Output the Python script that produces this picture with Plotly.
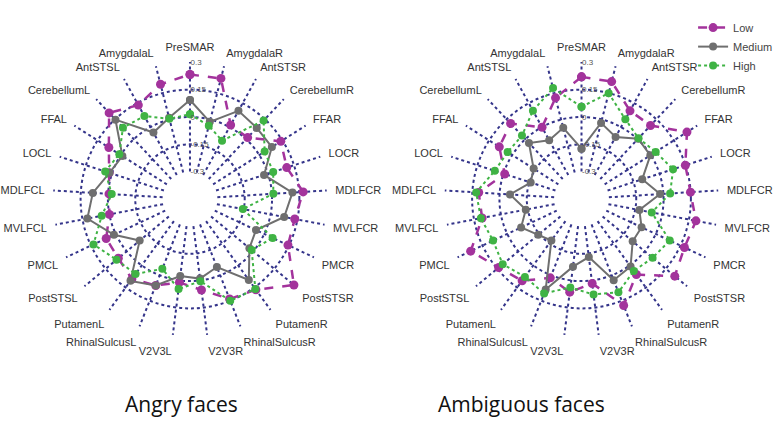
import plotly.graph_objects as go

categories = ["PreSMAR", "AmygdalaR", "AntSTSR", "CerebellumR", "FFAR", "LOCR", "MDLFCR",
              "MVLFCR", "PMCR", "PostSTSR", "PutamenR", "RhinalSulcusR", "V2V3R", "V2V3L",
              "RhinalSulcusL", "PutamenL", "PostSTSL", "PMCL", "MVLFCL", "MDLFCL", "LOCL",
              "FFAL", "CerebellumL", "AntSTSL", "AmygdalaL"]

angry_low = [0.233, 0.233, 0.013, 0.012, 0.14, 0.108, 0.172, 0.135, 0.144, 0.29, 0.165, 0.14, 0.053,
             0.011, 0.06, 0.092, 0.06, 0.058, 0.0, -0.005, 0.016, 0.077, 0.198, 0.138, 0.2]
angry_medium = [0.093, -0.013, 0.102, 0.085, 0.082, -0.023, 0.113, 0.076, -0.05, -0.027, 0.099, -0.049,
                -0.01, -0.024, 0.06, 0.105, -0.092, 0.011, 0.123, 0.084, 0.014, -0.011, 0.147, -0.034, 0.01]
angry_high = [0.015, -0.035, -0.085, 0.14, 0.035, 0.03, 0.008, -0.155, 0.051, -0.011, 0.16, 0.15, 0.004,
              0.048, -0.038, 0.058, 0.073, 0.135, 0.043, -0.02, 0.039, 0.009, 0.087, 0.069, 0.004]

ambig_low = [0.22, 0.215, 0.102, 0.103, 0.235, 0.149, 0.149, 0.189, 0.174, 0.214, 0.062, 0.178, 0.017,
             0.065, 0.015, 0.104, 0.14, 0.222, 0.105, 0.115, -0.007, 0.084, 0.118, -0.001, 0.123]
ambig_medium = [-0.174, -0.019, -0.062, 0.004, -0.003, -0.1, -0.018, -0.127, -0.086, -0.086, 0.008, 0.029,
                -0.129, -0.076, 0.084, -0.169, -0.142, -0.084, -0.139, -0.057, -0.157, -0.139, -0.029,
                -0.082, -0.047]
ambig_high = [0.056, 0.149, 0.049, 0.007, 0.032, 0.078, 0.037, -0.058, 0.085, 0.056, 0.038, 0.1, 0.078,
              0.039, 0.107, 0.078, 0.111, 0.086, 0.112, 0.129, 0.05, 0.03, 0.027, 0.103, 0.178]

radial_ticks = [-0.3, -0.15, 0, 0.15, 0.3]
radial_tick_labels = ["-0.3", "-0.15", "0", "0.15", "0.3"]
series_names = ["Low", "Medium", "High"]
panel_titles = ["Angry faces", "Ambiguous faces"]

styles = {
    "Low": dict(color="#a3339c", dash="dash", width=2.5, size=9),
    "Medium": dict(color="#6f6f6f", dash="solid", width=2, size=8),
    "High": dict(color="#3fb344", dash="3px,3px", width=2, size=8),
}

panels = [
    ("polar", {"Low": angry_low, "Medium": angry_medium, "High": angry_high}),
    ("polar2", {"Low": ambig_low, "Medium": ambig_medium, "High": ambig_high}),
]

fig = go.Figure()
for pi, (sub, data) in enumerate(panels):
    for name in series_names:
        vals = data[name]
        st = styles[name]
        fig.add_trace(go.Scatterpolar(
            r=vals + vals[:1], theta=categories + categories[:1], subplot=sub,
            mode="lines+markers", name=name, showlegend=(pi == 1),
            line=dict(color=st["color"], dash=st["dash"], width=st["width"]),
            marker=dict(color=st["color"], size=st["size"]),
        ))

grid_color = "#34348a"
polar_common = dict(
    bgcolor="white",
    hole=0.2,
    radialaxis=dict(range=[-0.3, 0.3015], tickvals=radial_ticks, ticktext=radial_tick_labels,
                    showline=False, gridcolor=grid_color, griddash="dot", gridwidth=1.5,
                    angle=90, tickangle=90, ticks="",
                    tickfont=dict(size=8, color="#555555", family="Liberation Sans, Arial")),
    angularaxis=dict(type="category", direction="clockwise", rotation=90,
                     showline=False, gridcolor=grid_color, griddash="dot", gridwidth=1.5,
                     ticks="outside", ticklen=6, tickcolor="rgba(0,0,0,0)",
                     tickfont=dict(size=11, color="#333333", family="Liberation Sans, Arial")),
)

fig.update_layout(
    width=777, height=437,
    margin=dict(l=0, r=0, t=0, b=0, autoexpand=False),
    paper_bgcolor="white",
    polar=dict(domain=dict(x=[0.0682, 0.4208], y=[0.2311, 0.8581]), **polar_common),
    polar2=dict(domain=dict(x=[0.5721, 0.9247], y=[0.2311, 0.8581]), **polar_common),
    legend=dict(x=0.892, y=0.97, xanchor="left", yanchor="top", bgcolor="rgba(0,0,0,0)",
                font=dict(size=11, color="#444444", family="Liberation Sans, Arial"),
                itemwidth=30, tracegroupgap=0),
    annotations=[
        dict(text=panel_titles[0], x=0.233, y=0.0755, xref="paper", yref="paper", showarrow=False,
             xanchor="center", yanchor="middle",
             font=dict(size=21, color="#111111", family="Open Sans")),
        dict(text=panel_titles[1], x=0.671, y=0.0755, xref="paper", yref="paper", showarrow=False,
             xanchor="center", yanchor="middle",
             font=dict(size=21, color="#111111", family="Open Sans")),
    ],
)

fig.write_html("out.html", config={"displayModeBar": False},
               post_script="document.body.style.margin='0';")
